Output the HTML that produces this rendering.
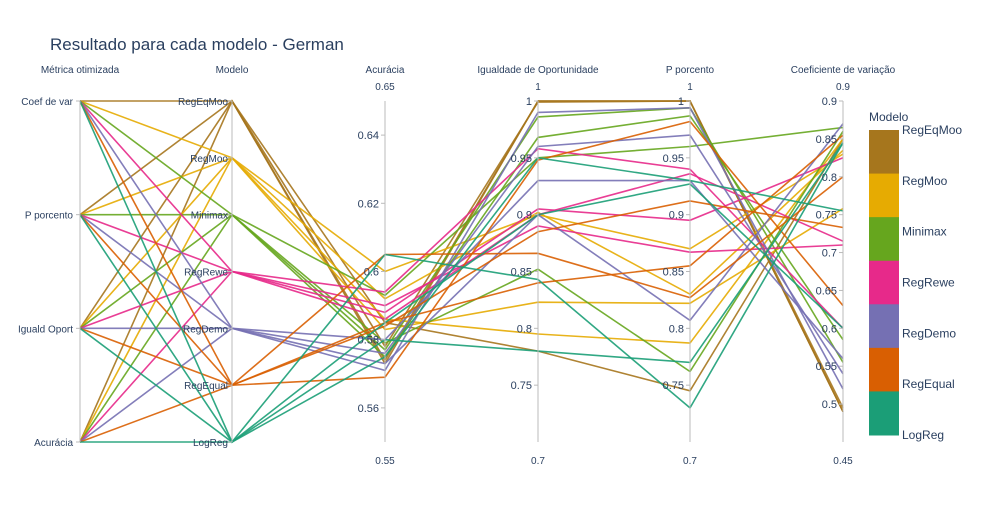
<!DOCTYPE html>
<html><head><meta charset="utf-8"><style>
body{margin:0;background:#fff;width:983px;height:525px;overflow:hidden;font-family:"Liberation Sans",sans-serif}
text{font-family:"Liberation Sans",sans-serif;fill:#2a3f5f}
</style></head><body>
<svg id="c" width="983" height="525"></svg>
<script>
const models=["RegEqMoo","RegMoo","Minimax","RegRewe","RegDemo","RegEqual","LogReg"];
const colors=["#a6761d","#e6ab02","#66a61e","#e7298a","#7570b3","#d95f02","#1b9e77"];
const metrics=["Coef de var","P porcento","Iguald Oport","Acurácia"];
// rows: model index, metric index, acc, eo, pp, cv
const rowModel=[0,0,0,0,1,1,1,1,2,2,2,2,3,3,3,3,4,4,4,4,5,5,5,5,6,6,6,6];
const rowMetric=[0,1,2,3,0,1,2,3,0,1,2,3,0,1,2,3,0,1,2,3,0,1,2,3,0,1,2,3];
const acc=[.573,.574,.578,.585,.600,.592,.583,.586,.577,.575,.593,.579,.594,.588,.590,.586,.571,.573,.580,.576,.569,.584,.605,.585,.605,.580,.575,.585];
const eo=[1.0,1.0,.999,.78,.90,.902,.823,.795,.986,.968,.95,.852,.958,.905,.89,.90,.99,.90,.93,.96,.948,.885,.866,.84,.843,.78,.95,.90];
const pp=[1.0,1.0,1.0,.745,.87,.83,.822,.787,.994,.987,.96,.762,.94,.895,.867,.936,.994,.807,.93,.97,.982,.912,.827,.855,.73,.77,.93,.927];
const cv=[.49,.49,.495,.85,.83,.835,.758,.85,.555,.585,.865,.86,.60,.825,.71,.715,.52,.87,.56,.54,.63,.733,.80,.855,.845,.845,.755,.60];
const accTicks=[.56,.58,.6,.62,.64],eoTicks=[.75,.8,.85,.9,.95,1],ppTicks=[.75,.8,.85,.9,.95,1],cvTicks=[.5,.55,.6,.65,.7,.75,.8,.85,.9];
const X=[80,232,385,538,690,843],T=101,B=442;
const svg=document.getElementById('c');const NS="http://www.w3.org/2000/svg";
function el(t,a,p){const e=document.createElementNS(NS,t);for(const k in a)e.setAttribute(k,a[k]);(p||svg).appendChild(e);return e;}
function lin(v,lo,hi){return B-(v-lo)/(hi-lo)*(B-T);}
const cat=(i,n)=>T+i*(B-T)/(n-1);
const ranges=[[.55,.65],[.7,1],[.7,1],[.45,.9]];
let t=el('text',{x:50,y:50,'font-size':17});t.textContent="Resultado para cada modelo - German";

const titles=["Métrica otimizada","Modelo","Acurácia","Igualdade de Oportunidade","P porcento","Coeficiente de variação"];
titles.forEach((s,i)=>{const e=el('text',{x:X[i],y:73,'font-size':10,'text-anchor':'middle'});e.textContent=s;
});
const lg=el('g',{});
for(let r=0;r<rowModel.length;r++){
 const ys=[cat(rowMetric[r],4),cat(rowModel[r],7),lin(acc[r],...ranges[0]),lin(eo[r],...ranges[1]),lin(pp[r],...ranges[2]),lin(cv[r],...ranges[3])];
 const p=el('polyline',{points:ys.map((y,i)=>X[i]+','+y.toFixed(1)).join(' '),fill:'none',stroke:colors[rowModel[r]],'stroke-width':1.6,'stroke-opacity':.9},lg);
 
}
X.forEach((x,i)=>{const a=el('line',{x1:x,x2:x,y1:T,y2:B,stroke:'#bbb','stroke-width':1});});
function catAxis(x,labels,off){labels.forEach((s,i)=>{const y=cat(i,labels.length);
 el('line',{x1:x-4,x2:x,y1:y,y2:y,stroke:'#bbb'});
 const e=el('text',{x:x-off,y:y+4,'font-size':10,'text-anchor':'end'});
 e.textContent=s;});}
catAxis(X[0],metrics,7);catAxis(X[1],models,4);
function numAxis(i,ticks,fmtLo,fmtHi){const x=X[i];
 ticks.forEach(v=>{const y=lin(v,...ranges[i-2]);el('line',{x1:x-4,x2:x,y1:y,y2:y,stroke:'#bbb'});
 const e=el('text',{x:x-6,y:y+4,'font-size':11,'text-anchor':'end'});e.textContent=String(v);
 });
 const a=el('text',{x:x,y:90,'font-size':10,'text-anchor':'middle'});a.textContent=fmtHi;
 const b=el('text',{x:x,y:464,'font-size':10,'text-anchor':'middle'});b.textContent=fmtLo;}
numAxis(2,accTicks,"0.55","0.65");numAxis(3,eoTicks,"0.7","1");numAxis(4,ppTicks,"0.7","1");numAxis(5,cvTicks,"0.45","0.9");
// colorbar
let ct=el('text',{x:869,y:121,'font-size':12});ct.textContent="Modelo";

const CT=130,CB=435,bh=(CB-CT)/7;
models.forEach((m,i)=>{const r=el('rect',{x:869,y:CT+i*bh,width:30,height:bh+0.5,fill:colors[i]});
 
 const e=el('text',{x:902,y:CT+i*(CB-CT)/6+4,'font-size':12});e.textContent=m;
 });
</script>
</body></html>
